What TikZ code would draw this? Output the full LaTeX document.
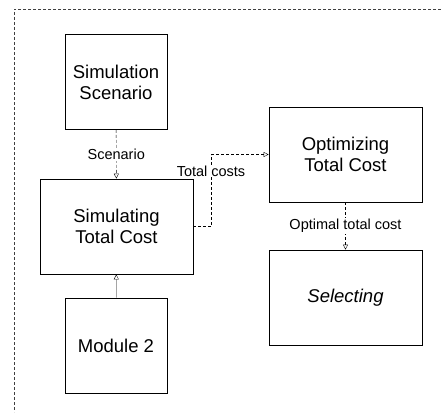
\documentclass[tikz,border=0pt]{standalone}
\usepackage{fontspec}
\setmainfont{Liberation Sans}
\usetikzlibrary{arrows.meta}
\tikzset{
  block/.style={draw,thick,align=center,minimum width=153pt,minimum height=95pt,
    inner sep=0pt,font=\fontsize{18.5}{21}\selectfont},
  smallblock/.style={block,minimum width=102pt},
  flow/.style={densely dashed,thin,-{Triangle[open,length=5pt,width=5pt]}},
  feed/.style={thin,-{Triangle[open,length=5pt,width=5pt]}},
  lbl/.style={fill=white,inner sep=1pt,font=\fontsize{14.5}{17}\selectfont}
}
\begin{document}
\begin{tikzpicture}[x=1pt,y=-1pt]
\useasboundingbox (0,0) rectangle (441,412);
% frame
\coordinate (frameTR) at (441,9);
\coordinate (frameTL) at (14,9);
\coordinate (frameBL) at (14,412);
\draw[densely dashed,darkgray] (frameTR) -- (frameTL) -- (frameBL);
% blocks
\node[smallblock] (scen) at (116,82) {Simulation\\Scenario};
\node[block] (sim) at (116.5,226.5) {Simulating\\Total Cost};
\node[smallblock] (mod) at (116,345.5) {Module 2};
\node[block] (opt) at (345.5,154.5) {Optimizing\\Total Cost};
\node[block] (sel) at (345.5,297.5) {\itshape Selecting};
% connectors
\draw[flow] (scen) -- node[lbl] (scenlbl) {Scenario} (sim);
\draw[feed] (mod) -- (sim);
\draw[flow] (sim.east) -- ++(18,0) |- (opt.west);
\node[lbl] (costlbl) at (211,171) {Total costs};
\draw[flow] (opt) -- node[lbl] (optlbl) {Optimal total cost} (sel);
\end{tikzpicture}
\end{document}
